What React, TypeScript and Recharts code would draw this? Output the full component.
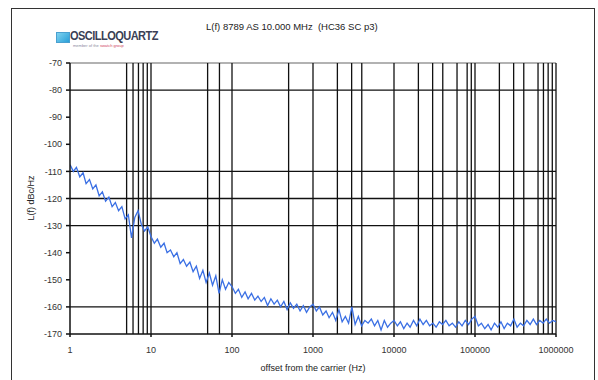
import React from "react";
import {
  LineChart,
  Line,
  XAxis,
  YAxis,
  ReferenceLine,
} from "recharts";

// offset frequencies (Hz)
const offsetHz = [
  1, 1.1, 1.2, 1.32, 1.45, 1.58, 1.74, 1.91, 2.09, 2.29, 2.51, 2.75, 3.02, 3.31, 3.63, 3.98, 4.37, 4.79, 5.25, 5.75, 6.31, 6.92, 7.59, 8.32, 9.12,
  10, 11, 12, 13.2, 14.5, 15.8, 17.4, 19.1, 20.9, 22.9, 25.1, 27.5, 30.2, 33.1, 36.3, 39.8, 43.7, 47.9, 52.5, 57.5, 63.1, 69.2, 75.9, 83.2, 91.2,
  100, 110, 120, 132, 145, 158, 174, 191, 209, 229, 251, 275, 302, 331, 363, 398, 437, 479, 525, 575, 631, 692, 759, 832, 912,
  1000, 1100, 1200, 1320, 1450, 1580, 1740, 1910, 2090, 2290, 2510, 2750, 3020, 3310, 3630, 3980, 4370, 4790, 5250, 5750, 6310, 6920, 7590, 8320, 9120,
  10000, 11000, 12000, 13200, 14500, 15800, 17400, 19100, 20900, 22900, 25100, 27500, 30200, 33100, 36300, 39800, 43700, 47900, 52500, 57500, 63100, 69200, 75900, 83200, 91200,
  100000, 110000, 120000, 132000, 145000, 158000, 174000, 191000, 209000, 229000, 251000, 275000, 302000, 331000, 363000, 398000, 437000, 479000, 525000, 575000, 631000, 692000, 759000, 832000, 912000, 1000000,
];

// L(f) in dBc/Hz
const phaseNoise = [
  -107.5, -110, -108.5, -112, -110.5, -114.5, -113, -116.5, -115, -119, -117.5, -121, -119.5, -123, -121.5, -124.5, -123, -127.5, -126, -134.5, -127, -124.5, -129.5, -132, -130.5,
  -134, -136.5, -135, -138, -136.5, -140, -139, -141.5, -140, -144, -142.5, -145, -143.5, -147, -145, -149.5, -146.5, -151, -147.5, -152, -148.5, -155, -150, -153.5, -151,
  -152.5, -155, -153.5, -156.5, -154.5, -157, -155, -157.5, -156, -158, -156.5, -159.5, -157, -159, -157.5, -160, -158, -161, -158.5, -160.5, -159, -161.5, -159.5, -162, -160,
  -159, -161.5, -160, -163, -161.5, -164, -162, -165, -161, -165.5, -163.5, -166, -160, -166.5, -163.5, -167, -165, -166, -164.5, -167, -165, -168.5, -165, -167.5, -166,
  -165, -167, -165.5, -168, -166, -167.5, -165, -167, -164.5, -166.5, -165, -167, -166, -167.5, -165.5, -166.5, -165, -167, -166, -167.5, -165.5, -167, -165, -166.5, -164.5,
  -163.5, -167, -166, -168, -166.5, -168.5, -166, -167.5, -165.5, -168, -166, -167, -164.5, -167.5, -166, -167, -165, -166.5, -164.5, -166.5, -165, -166, -164.5, -166, -165, -165.5,
];

const xTicks = [1, 10, 100, 1000, 10000, 100000, 1000000];
const yTicks = [-170, -160, -150, -140, -130, -120, -110, -100, -90, -80, -70];
const vGrid = [
  5, 6, 7, 8, 9, 10, 50, 70, 100, 500, 1000, 2000, 3000, 4000, 10000,
  20000, 30000, 40000, 60000, 80000, 90000, 100000,
  200000, 300000, 400000, 600000, 700000, 800000, 900000, 1000000,
];
const hGrid = [-80, -110, -120, -130, -160];

const data = offsetHz.map((f, i) => ({ f, l: phaseNoise[i] }));

const font = "'Liberation Sans', Arial, sans-serif";

export default function App() {
  return (
    <div
      style={{
        position: "absolute",
        left: 0,
        top: 0,
        width: 598,
        height: 380,
        background: "#fff",
        overflow: "hidden",
        fontFamily: font,
      }}
    >
      <div
        style={{
          position: "absolute",
          left: 11,
          top: 8,
          width: 582,
          height: 390,
          border: "1.5px solid #333",
        }}
      />
      {/* logo */}
      <div
        style={{
          position: "absolute",
          left: 56,
          top: 32,
          width: 12,
          height: 9,
          background: "linear-gradient(135deg,#7fd3f0,#2a9fd8)",
          border: "1px solid #4aa0d0",
        }}
      />
      <div
        style={{
          position: "absolute",
          left: 70,
          top: 29,
          fontSize: 12,
          fontWeight: 700,
          color: "#3a3f55",
          letterSpacing: -0.6,
          transform: "scaleX(0.92)",
          transformOrigin: "left",
        }}
      >
        OSCILLOQUARTZ
      </div>
      <div
        style={{
          position: "absolute",
          left: 73,
          top: 43,
          fontSize: 4,
          color: "#8a8aa0",
        }}
      >
        member of the <span style={{ color: "#d04060" }}>swatch group</span>
      </div>
      {/* title */}
      <div
        style={{
          position: "absolute",
          left: 206,
          top: 21,
          fontSize: 9.5,
          color: "#222",
          whiteSpace: "pre",
        }}
      >
        L(f) 8789 AS 10.000 MHz  (HC36 SC p3)
      </div>
      {/* axis titles */}
      <div
        style={{
          position: "absolute",
          left: 31,
          top: 198,
          fontSize: 9,
          color: "#222",
          whiteSpace: "nowrap",
          transform: "translate(-50%,-50%) rotate(-90deg)",
        }}
      >
        L(f) dBc/Hz
      </div>
      <div
        style={{
          position: "absolute",
          left: 313,
          top: 368,
          fontSize: 9,
          color: "#222",
          whiteSpace: "nowrap",
          transform: "translate(-50%,-50%)",
        }}
      >
        offset from the carrier (Hz)
      </div>
      <div style={{ position: "absolute", left: 0, top: 0 }}>
        <LineChart
          width={598}
          height={380}
          data={data}
          margin={{ top: 63, right: 42, bottom: 20, left: 30 }}
        >
          {hGrid.map((v) => (
            <ReferenceLine key={`h${v}`} y={v} stroke="#111" strokeWidth={1.3} />
          ))}
          <ReferenceLine y={-70} stroke="#999" strokeWidth={1.3} />
          {vGrid.map((v) => (
            <ReferenceLine key={`v${v}`} x={v} stroke="#111" strokeWidth={1.3} />
          ))}
          <XAxis
            dataKey="f"
            type="number"
            scale="log"
            domain={[1, 1000000]}
            ticks={xTicks}
            allowDataOverflow
            height={26}
            stroke="#111"
            strokeWidth={1.5}
            tickSize={3}
            tickMargin={10}
            tick={{ fontSize: 9, fill: "#333", fontFamily: font }}
            tickFormatter={(v: number) => String(v)}
          />
          <YAxis
            type="number"
            domain={[-170, -70]}
            ticks={yTicks}
            allowDataOverflow
            width={40}
            stroke="#111"
            strokeWidth={1.5}
            tickSize={4}
            tickMargin={4}
            tick={{ fontSize: 9, fill: "#333", fontFamily: font }}
          />
          <Line
            dataKey="l"
            type="linear"
            stroke="#3b70e4"
            strokeWidth={1.3}
            dot={false}
            isAnimationActive={false}
          />
        </LineChart>
      </div>
    </div>
  );
}
